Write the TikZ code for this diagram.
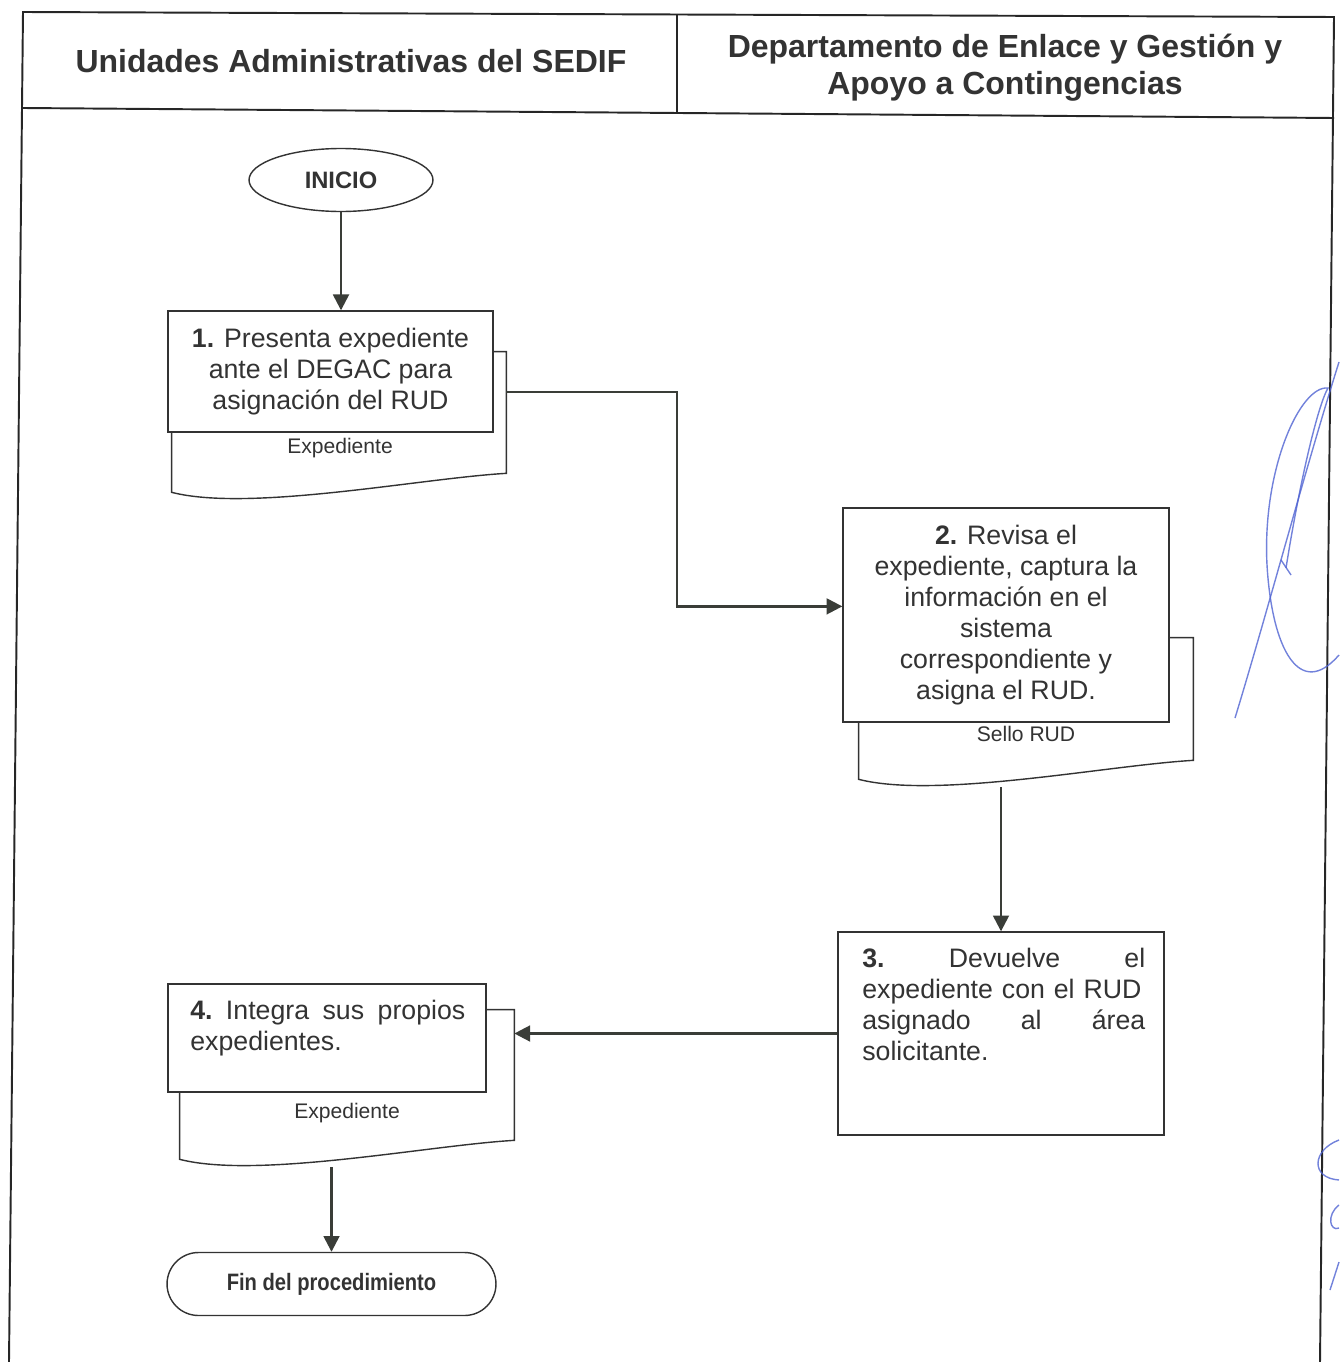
\documentclass[tikz,border=0pt]{standalone}
\usepackage{fontspec}
\setmainfont{Liberation Sans}
\newfontfamily\narrowfont[FakeStretch=0.85]{Liberation Sans}
\usepackage{tikz}
\usetikzlibrary{shapes.geometric,shapes.misc,arrows.meta,calc,positioning}
\definecolor{inkgray}{HTML}{333333}
\definecolor{arrowgray}{HTML}{3A3D38}
\definecolor{signblue}{HTML}{4F63D2}
\newcommand{\bodyfont}{\fontsize{15.2}{17.6}\selectfont}
\newcommand{\headfont}{\fontsize{18.2}{21}\selectfont\bfseries}
\newcommand{\smallfont}{\fontsize{12}{14}\selectfont}
\tikzstyle{lanebox}=[line width=1.1pt, draw=black!85]
\tikzstyle{proc}=[rectangle, draw=inkgray, fill=white, line width=0.8pt, inner sep=0pt, text=inkgray, font=\bodyfont, align=center]
\tikzstyle{proctext}=[inner sep=0pt, anchor=north west, text=inkgray, font=\bodyfont, align=left]
\tikzstyle{docbox}=[rectangle, inner sep=0pt, minimum width=6.68cm]
\tikzstyle{docline}=[draw=inkgray, fill=white, line width=0.8pt]
\tikzstyle{doclabel}=[inner sep=0pt, text=inkgray, font=\smallfont]
\tikzstyle{term}=[draw=inkgray, fill=white, line width=0.8pt, text=inkgray, minimum height=1.26cm, inner sep=0pt]
\tikzstyle{flow}=[-{Triangle[length=9pt,width=9pt]}, draw=arrowgray, line width=1.4pt]
\tikzstyle{sign}=[draw=signblue, line width=0.8pt, opacity=0.8]
\newcommand{\docshape}[1]{\draw[docline] (#1.north west) -- (#1.north east) -- ($(#1.south east)+(0,-27)$) .. controls ($(#1.south east)+(-86,-22)$) and ($(#1.south west)+(78,12)$) .. ($(#1.south west)+(0,-8)$) -- cycle;}

\begin{document}
\begin{tikzpicture}[x=0.02cm, y=-0.02cm]
            \useasboundingbox (0,0) rectangle (1339,1362);
            \draw[lanebox] (9,1362) -- (23,12) -- (1334,17) -- (1320,1362);
            \draw[lanebox] (23,108) -- (1334,118);
            \draw[lanebox] (677,14) -- (677,113);
            \node[text=inkgray, font=\headfont] (h1) at (351,61) {Unidades Administrativas del SEDIF};
            \node[text=inkgray, font=\headfont, align=center] (h2) at (1005,68) {Departamento de Enlace y Gestión y\\Apoyo a Contingencias};

            \node[term, ellipse, minimum width=3.68cm, font=\fontsize{13.5}{16}\selectfont\bfseries] (inicio) at (341,180) {INICIO};

            \node[docbox, minimum height=2.96cm] (d1) at (339,426) {};
            \docshape{d1}
            \node[proc, minimum width=6.5cm, minimum height=2.42cm] (p1) at (330.5,371.5) {\textbf{1.} Presenta expediente\\ante el DEGAC para\\asignación del RUD};
            \node[doclabel] (e1) at (340,448) {Expediente};

            \node[docbox, minimum height=2.98cm] (d2) at (1026,712.5) {};
            \docshape{d2}
            \node[proc, minimum width=6.52cm, minimum height=4.28cm] (p2) at (1006,615) {\textbf{2.} Revisa el\\expediente, captura la\\información en el\\sistema\\correspondiente y\\asigna el RUD.};
            \node[doclabel] (e2) at (1026,734) {Sello RUD};

            \node[proc, minimum width=6.52cm, minimum height=4.06cm] (p3) at (1001,1033.5) {};
            \node[proctext, text width=5.66cm] (t3) at (862,948) {\textbf{3.}\hfill Devuelve\hfill el\\expediente con el RUD\\asignado\hfill al\hfill área\\solicitante.};

            \node[docbox, minimum height=3.14cm] (d4) at (347,1088.5) {};
            \docshape{d4}
            \node[proc, minimum width=6.36cm, minimum height=2.16cm] (p4) at (327,1038) {};
            \node[proctext, text width=5.5cm] (t4) at (190,1000) {\textbf{4.} Integra\hfill sus\hfill propios\\expedientes.};
            \node[doclabel] (e4) at (347,1113) {Expediente};

            \node[term, rounded rectangle, minimum width=6.58cm, font=\narrowfont\fontsize{13.5}{16}\selectfont\bfseries] (fin) at (331.5,1284) {Fin del procedimiento};

            \coordinate (d1e) at ($(d1.north east)!0.27!(d1.south east)$);
            \coordinate (p2w) at ($(p2.north west)!0.46!(p2.south west)$);
            \coordinate (lane) at (677,113);
            \draw[flow] (inicio.south) -- (inicio.south |- p1.north);
            \draw[flow] (d1e) -| (lane |- p2w) -- (p2w);
            \draw[flow] (p3.north |- d2.south) -- (p3.north);
            \draw[flow] (p3.west) -- (p3.west -| d4.east);
            \draw[flow] (fin.north |- d4.south) -- (fin.north);

            \draw[sign] (1235,718) .. controls (1268,610) and (1305,470) .. (1339,362);
            \draw[sign] (1286,568) .. controls (1300,480) and (1318,405) .. (1328,388) .. controls (1300,385) and (1262,470) .. (1267,565) .. controls (1272,650) and (1300,700) .. (1339,655);
            \draw[sign] (1281,560) -- (1291,575);
            \draw[sign] (1339,1140) .. controls (1312,1150) and (1310,1178) .. (1339,1180);
            \draw[sign] (1339,1205) .. controls (1326,1215) and (1330,1232) .. (1339,1228);
            \draw[sign] (1330,1290) -- (1339,1262);
\end{tikzpicture}
\end{document}
